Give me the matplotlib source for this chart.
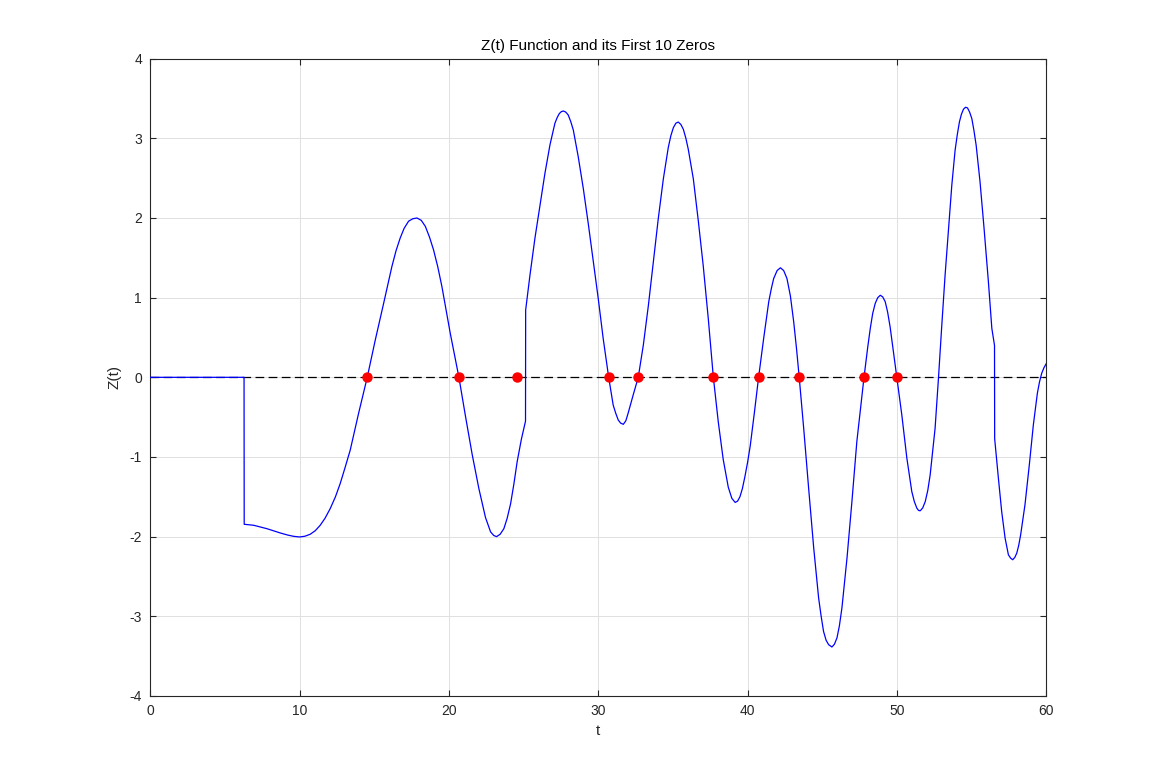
import matplotlib
matplotlib.use("Agg")
import matplotlib.pyplot as plt

# Z(t), (t, Z) pairs; the curve jumps near
# t = 2*pi, 8*pi and 18*pi
seg0 = [(0.0, 0.0), (6.28, 0.0)]
seg1 = [(6.29, -1.845), (6.92, -1.857), (7.81, -1.90), (8.71, -1.954),
        (9.2, -1.98), (9.6, -1.996), (10.0, -2.004), (10.35, -1.995),
        (10.71, -1.97), (11.05, -1.925), (11.38, -1.857), (11.7, -1.77),
        (12.05, -1.648), (12.4, -1.50), (12.72, -1.333), (13.05, -1.13),
        (13.39, -0.914), (13.95, -0.453), (14.53, 0.0), (15.07, 0.47),
        (15.63, 0.93), (16.18, 1.39), (16.46, 1.59), (16.74, 1.75),
        (17.0, 1.87), (17.30, 1.96), (17.58, 1.99), (17.86, 2.0),
        (18.15, 1.97), (18.42, 1.895), (18.7, 1.76), (18.97, 1.60),
        (19.25, 1.39), (19.53, 1.14), (20.09, 0.553), (20.67, 0.0),
        (21.12, -0.50), (21.56, -0.97), (22.01, -1.40), (22.45, -1.76),
        (22.79, -1.94), (23.0, -1.985), (23.19, -2.0), (23.43, -1.97),
        (23.68, -1.90), (23.9, -1.77), (24.13, -1.588), (24.35, -1.34),
        (24.57, -1.06), (24.85, -0.78), (25.13, -0.55)]
seg2 = [(25.14, 0.845), (25.43, 1.285), (25.76, 1.745), (26.10, 2.163),
        (26.43, 2.56), (26.77, 2.92), (27.10, 3.19), (27.25, 3.26),
        (27.39, 3.31), (27.53, 3.335), (27.66, 3.343), (27.82, 3.33),
        (27.99, 3.293), (28.16, 3.21), (28.33, 3.105), (28.66, 2.77),
        (29.0, 2.37), (29.33, 1.933), (29.67, 1.452), (30.0, 0.99),
        (30.33, 0.49), (30.70, 0.0), (31.0, -0.347), (31.17, -0.45),
        (31.34, -0.536), (31.5, -0.575), (31.68, -0.59), (31.85, -0.545),
        (32.0, -0.452), (32.34, -0.222), (32.68, 0.0), (33.02, 0.404),
        (33.36, 0.904), (33.69, 1.446), (34.02, 1.99), (34.36, 2.49),
        (34.69, 2.883), (34.86, 3.03), (35.03, 3.133), (35.2, 3.19),
        (35.36, 3.204), (35.53, 3.175), (35.70, 3.113), (35.87, 3.0),
        (36.03, 2.863), (36.37, 2.49), (36.70, 1.967), (37.03, 1.404),
        (37.37, 0.7375), (37.71, 0.0), (38.04, -0.56), (38.37, -1.03),
        (38.71, -1.38), (38.95, -1.52), (39.17, -1.57), (39.33, -1.555),
        (39.49, -1.50), (39.65, -1.40), (39.82, -1.25), (40.0, -1.07),
        (40.18, -0.86), (40.46, -0.44), (40.74, 0.0), (41.08, 0.489),
        (41.42, 0.949), (41.6, 1.12), (41.75, 1.24), (41.98, 1.34),
        (42.20, 1.375), (42.42, 1.34), (42.64, 1.24), (42.87, 1.02),
        (43.09, 0.698), (43.28, 0.36), (43.46, 0.0), (43.76, -0.64),
        (44.09, -1.39), (44.43, -2.14), (44.76, -2.77), (44.93, -3.0),
        (45.09, -3.19), (45.26, -3.30), (45.43, -3.356), (45.65, -3.385),
        (45.82, -3.35), (45.99, -3.27), (46.15, -3.12), (46.32, -2.896),
        (46.66, -2.27), (46.99, -1.559), (47.32, -0.806), (47.80, 0.0),
        (48.05, 0.38), (48.22, 0.614), (48.38, 0.80), (48.55, 0.928),
        (48.72, 1.0), (48.89, 1.03), (49.05, 1.01), (49.22, 0.949),
        (49.38, 0.82), (49.55, 0.63), (50.0, 0.0), (50.33, -0.47),
        (50.67, -1.016), (51.0, -1.434), (51.17, -1.56), (51.34, -1.643),
        (51.45, -1.67), (51.56, -1.676), (51.73, -1.64), (51.90, -1.56),
        (52.07, -1.42), (52.23, -1.225), (52.56, -0.64), (52.79, 0.0),
        (53.01, 0.656), (53.23, 1.283), (53.46, 1.869), (53.68, 2.412),
        (53.90, 2.85), (54.05, 3.05), (54.19, 3.206), (54.32, 3.30),
        (54.46, 3.365), (54.6, 3.39), (54.73, 3.382), (54.87, 3.33),
        (55.02, 3.248), (55.16, 3.10), (55.31, 2.914), (55.57, 2.454),
        (55.84, 1.869), (56.13, 1.2), (56.36, 0.615), (56.54, 0.40)]
seg3 = [(56.55, -0.77), (56.80, -1.267), (57.02, -1.685), (57.25, -2.02),
        (57.47, -2.228), (57.62, -2.27), (57.76, -2.29), (57.9, -2.26),
        (58.03, -2.207), (58.16, -2.11), (58.29, -1.977), (58.58, -1.60),
        (58.87, -1.10), (59.14, -0.598), (59.41, -0.2), (59.55, -0.06),
        (59.70, 0.05), (59.85, 0.12), (60.0, 0.17)]

curve = seg0 + seg1 + seg2 + seg3
t_vals = [p[0] for p in curve]
z_vals = [p[1] for p in curve]

# first 10 zeros found
zero_t = [14.53, 20.67, 24.55, 30.70, 32.68, 37.71, 40.74, 43.46, 47.80, 50.0]

x_ticks = [0, 10, 20, 30, 40, 50, 60]
y_ticks = [-4, -3, -2, -1, 0, 1, 2, 3, 4]

AX_COLOR = "#262626"

plt.rcParams["font.family"] = ["Liberation Sans", "DejaVu Sans"]
plt.rcParams["font.size"] = 10
plt.rcParams["axes.unicode_minus"] = False

fig = plt.figure(figsize=(11.56, 7.82), dpi=100)
ax = fig.add_axes([0.13, 0.11, 0.775, 0.815])

ax.plot(t_vals, z_vals, color="b", linewidth=0.9, zorder=3)
ax.plot([0, 60], [0, 0], color="k", linewidth=0.9, dashes=(7, 3.5), zorder=2)
ax.plot(zero_t, [0] * len(zero_t), "o", color="r", markerfacecolor="r",
        markersize=6.5, zorder=4)

ax.set_xlim(0, 60)
ax.set_ylim(-4, 4)
ax.set_xticks(x_ticks)
ax.set_yticks(y_ticks)
ax.set_xlabel("t", fontsize=11, color=AX_COLOR, labelpad=4)
ax.set_ylabel("Z(t)", fontsize=11, color=AX_COLOR, labelpad=6)
ax.set_title("Z(t) Function and its First 10 Zeros", fontsize=11,
             color="black", pad=6)

ax.grid(True, color="#e0e0e0", linewidth=0.7)
ax.set_axisbelow(True)
for spine in ax.spines.values():
    spine.set_color(AX_COLOR)
    spine.set_linewidth(0.8)
ax.tick_params(direction="in", length=4, width=0.8, colors=AX_COLOR,
               top=True, right=True, labelsize=10, pad=6)

fig.savefig("out.png", dpi=100)
